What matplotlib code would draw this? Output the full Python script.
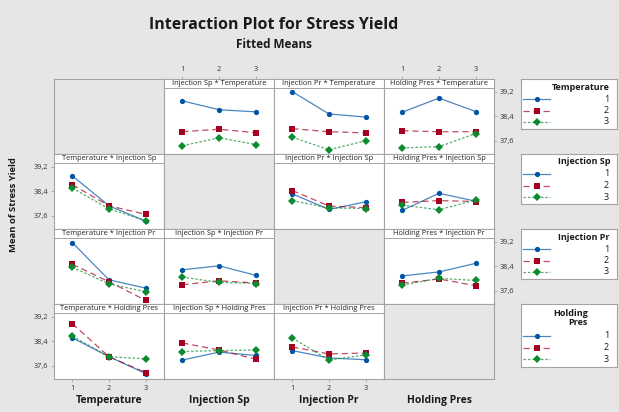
import matplotlib
matplotlib.use('Agg')
import matplotlib.pyplot as plt
from matplotlib.patches import Rectangle

plt.rcParams['font.family'] = ['Open Sans', 'DejaVu Sans']

factors = ['Temperature', 'Injection Sp', 'Injection Pr', 'Holding Pres']
levels = [1, 2, 3]
y_ticks = [37.6, 38.4, 39.2]
y_tick_labels = ['37,6', '38,4', '39,2']

# Fitted means. Name is <x factor>_by_<trace factor>; each inner list is one
# level (1, 2, 3) of the trace factor, evaluated at x levels 1, 2, 3.
injsp_by_temp = [[38.91, 38.62, 38.55], [37.90, 37.98, 37.87], [37.44, 37.70, 37.48]]
injpr_by_temp = [[39.21, 38.48, 38.38], [38.00, 37.90, 37.86], [37.72, 37.31, 37.60]]
hold_by_temp = [[38.54, 39.00, 38.56], [37.93, 37.90, 37.90], [37.37, 37.41, 37.84]]

temp_by_injsp = [[38.91, 37.93, 37.43], [38.62, 37.93, 37.65], [38.51, 37.83, 37.44]]
injpr_by_injsp = [[38.32, 37.81, 38.06], [38.43, 37.92, 37.87], [38.10, 37.86, 37.84]]
hold_by_injsp = [[37.78, 38.34, 38.08], [38.04, 38.10, 38.07], [37.95, 37.80, 38.12]]

temp_by_injpr = [[39.18, 37.96, 37.69], [38.47, 37.90, 37.29], [38.37, 37.83, 37.57]]
injsp_by_injpr = [[38.29, 38.42, 38.11], [37.80, 37.93, 37.86], [38.05, 37.88, 37.84]]
hold_by_injpr = [[38.09, 38.22, 38.50], [37.85, 37.99, 37.77], [37.79, 38.01, 37.94]]

temp_by_hold = [[38.52, 37.90, 37.35], [38.98, 37.90, 37.38], [38.57, 37.90, 37.83]]
injsp_by_hold = [[37.79, 38.05, 37.94], [38.35, 38.12, 37.82], [38.07, 38.10, 38.12]]
injpr_by_hold = [[38.10, 37.86, 37.80], [38.22, 37.99, 38.02], [38.51, 37.79, 37.96]]

# (row = trace factor, col = x factor)
PANELS = {
    (0, 1): injsp_by_temp, (0, 2): injpr_by_temp, (0, 3): hold_by_temp,
    (1, 0): temp_by_injsp, (1, 2): injpr_by_injsp, (1, 3): hold_by_injsp,
    (2, 0): temp_by_injpr, (2, 1): injsp_by_injpr, (2, 3): hold_by_injpr,
    (3, 0): temp_by_hold, (3, 1): injsp_by_hold, (3, 2): injpr_by_hold,
}

BG = '#E6E6E6'
EDGE = '#A3A3A3'
COLORS = ['#0054A6', '#A50021', '#0B8A2E']
STYLES = ['-', (0, (5, 3)), (0, (2, 1.5))]
MARKERS = ['o', 's', 'D']
MSIZES = [3.8, 4.0, 3.6]

W, H = 619, 412
XS = [54, 164, 274, 384, 494]
YS = [79, 154, 229, 304, 379]
STRIP = 9  # px height of the panel title strip
YMIN, YMAX = 37.17, 39.625


def px_box(x0, y0, x1, y1):
    return [x0 / W, 1 - y1 / H, (x1 - x0) / W, (y1 - y0) / H]


def draw_trace(ax, xs, ys, k):
    # lighter line underneath, solid markers on top (as Minitab renders it)
    ax.plot(xs, ys, color=COLORS[k], linestyle=STYLES[k], linewidth=0.9, alpha=0.7)
    ax.plot(xs, ys, color=COLORS[k], linestyle='none', marker=MARKERS[k],
            markersize=MSIZES[k], markeredgewidth=0)


fig = plt.figure(figsize=(W / 100, H / 100), dpi=100, facecolor=BG)

fig.text(0.5 * (XS[0] + XS[-1]) / W, 1 - 25 / H, 'Interaction Plot for Stress Yield',
         ha='center', va='center', fontsize=11.5, fontweight='bold', color='#1A1A1A')
fig.text(0.5 * (XS[0] + XS[-1]) / W, 1 - 44 / H, 'Fitted Means',
         ha='center', va='center', fontsize=8.5, fontweight='bold', color='#1A1A1A')

for r in range(4):
    for c in range(4):
        ax = fig.add_axes(px_box(XS[c], YS[r], XS[c + 1], YS[r + 1]))
        for sp in ax.spines.values():
            sp.set_color(EDGE)
            sp.set_linewidth(0.8)
        ax.tick_params(which='both', length=0, labelleft=False, labelbottom=False)
        ax.set_xlim(0.5, 3.5)
        ax.set_ylim(YMIN, YMAX)
        ax.set_xticks(levels)
        ax.set_xticklabels([str(v) for v in levels])
        ax.set_yticks(y_ticks)
        ax.set_yticklabels(y_tick_labels)
        if r == c:
            ax.set_facecolor(BG)
        else:
            ax.set_facecolor('white')
            frac = 1 - STRIP / (YS[r + 1] - YS[r])
            ax.add_patch(Rectangle((0, frac), 1, 1 - frac, transform=ax.transAxes,
                                   facecolor='white', edgecolor=EDGE, linewidth=0.7,
                                   zorder=5))
            ax.text(0.5, (1 + frac) / 2, f'{factors[c]} * {factors[r]}',
                    transform=ax.transAxes, ha='center', va='center',
                    fontsize=5.4, color='#222222', zorder=6)
            data = PANELS[(r, c)]
            for k in range(3):
                draw_trace(ax, levels, data[k], k)

        tick_kw = dict(length=2.5, width=0.6, color=EDGE, labelsize=5.3,
                       labelcolor='#333333', pad=1.5)
        if r == 3 and c in (0, 2):
            ax.tick_params(axis='x', bottom=True, labelbottom=True, **tick_kw)
        if r == 0 and c in (1, 3):
            ax.tick_params(axis='x', top=True, labeltop=True, bottom=False, **tick_kw)
        if c == 0 and r in (1, 3):
            ax.tick_params(axis='y', left=True, labelleft=True, **tick_kw)
        if c == 3 and r in (0, 2):
            ax.tick_params(axis='y', right=True, labelright=True, left=False, **tick_kw)

# column (x factor) labels and y label
for c, name in enumerate(factors):
    fig.text((XS[c] + XS[c + 1]) / 2 / W, 1 - 401 / H, name, ha='center', va='center',
             fontsize=7.5, fontweight='bold', color='#1A1A1A')
fig.text(14 / W, 1 - 205 / H, 'Mean of Stress Yield', rotation=90, ha='center',
         va='center', fontsize=6.8, fontweight='bold', color='#1A1A1A')

# legend boxes, one per trace factor
legend_tops = [79, 154, 229, 304]
for i, name in enumerate(factors):
    two_line = name == 'Holding Pres'
    bh = 63 if two_line else 50
    lx0, lx1 = 521, 617
    top = legend_tops[i]
    lax = fig.add_axes(px_box(lx0, top, lx1, top + bh))
    lax.set_xlim(0, lx1 - lx0)
    lax.set_ylim(bh, 0)
    lax.set_xticks([])
    lax.set_yticks([])
    lax.set_facecolor('white')
    for sp in lax.spines.values():
        sp.set_color(EDGE)
        sp.set_linewidth(0.8)
    if two_line:
        lax.text(67, 14, 'Holding\nPres', ha='right', va='center', fontsize=6.5,
                 fontweight='bold', color='#1A1A1A', linespacing=1.1,
                 multialignment='right')
        first = 32
    else:
        lax.text(89, 8, name, ha='right', va='center', fontsize=6.5,
                 fontweight='bold', color='#1A1A1A')
        first = 20
    for k in range(3):
        yy = first + 11.5 * k
        draw_trace(lax, [2, 29], [yy, yy], k)
        lax.lines[-1].set_xdata([15.5])
        lax.lines[-1].set_ydata([yy])
        lax.text(88, yy, str(levels[k]), ha='right', va='center', fontsize=6.5,
                 color='#1A1A1A')

fig.savefig('out.png', dpi=100, facecolor=BG)
